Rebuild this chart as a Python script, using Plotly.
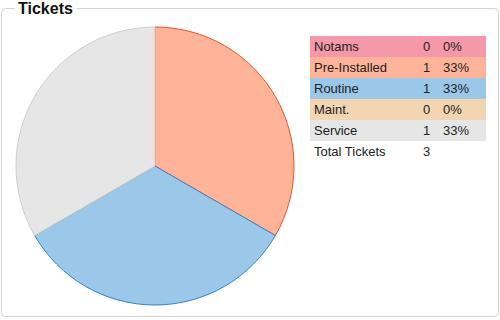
import plotly.graph_objects as go

# Ticket categories and counts
categories = ["Notams", "Pre-Installed", "Routine", "Maint.", "Service"]
counts = [0, 1, 1, 0, 1]
fill_colors = ["#f598a9", "#ffb499", "#9bc7e8", "#f2d5b1", "#e6e6e6"]
edge_colors = ["#e0607a", "#f4511e", "#2f86cf", "#c9a57c", "#cfcfcf"]
total_label = "Total Tickets"
title_text = "Tickets"

W, H = 500, 320
total = sum(counts)
pcts = [f"{round(100 * c / total)}%" if total else "0%" for c in counts]


def px(x):
    return x / W


def py(y):
    return 1 - y / H


fig = go.Figure()

fig.add_trace(go.Pie(
    labels=categories,
    values=counts,
    sort=False,
    direction="clockwise",
    rotation=0,
    textinfo="none",
    hoverinfo="label+value+percent",
    marker=dict(colors=fill_colors, line=dict(color=edge_colors, width=1)),
    domain=dict(x=[px(16), px(294)], y=[py(305), py(27)]),
    showlegend=False,
))

shapes = []
annotations = []

# Rounded frame around the panel
x0, y0, x1, y1, r = 1.5, 8.5, 498.5, 316.5, 4
path = (
    f"M {px(x0 + r)},{py(y0)} L {px(x1 - r)},{py(y0)} "
    f"Q {px(x1)},{py(y0)} {px(x1)},{py(y0 + r)} "
    f"L {px(x1)},{py(y1 - r)} Q {px(x1)},{py(y1)} {px(x1 - r)},{py(y1)} "
    f"L {px(x0 + r)},{py(y1)} Q {px(x0)},{py(y1)} {px(x0)},{py(y1 - r)} "
    f"L {px(x0)},{py(y0 + r)} Q {px(x0)},{py(y0)} {px(x0 + r)},{py(y0)} Z"
)
shapes.append(dict(type="path", xref="paper", yref="paper", path=path,
                   line=dict(color="#d4d4d4", width=1), layer="below"))

# Panel title sitting on the frame line
annotations.append(dict(
    x=px(14), y=py(8), xref="paper", yref="paper", xanchor="left", yanchor="middle",
    text=f"<b>{title_text}</b>", showarrow=False, bgcolor="#ffffff",
    borderpad=3, font=dict(family="Liberation Sans, Arial", size=16, color="#111111"),
))

# Summary table rows
tx0, tx1 = 310, 486
row_top, row_h = 36, 21
font = dict(family="Liberation Sans, Arial", size=13, color="#222222")


def cell(x, y, text):
    return dict(x=px(x), y=y, xref="paper", yref="paper", xanchor="left",
                yanchor="middle", text=text, showarrow=False, font=font, borderpad=0)


for i, (name, c, p, fc) in enumerate(zip(categories, counts, pcts, fill_colors)):
    yt = row_top + i * row_h
    shapes.append(dict(type="rect", xref="paper", yref="paper",
                       x0=px(tx0), x1=px(tx1), y0=py(yt + row_h), y1=py(yt),
                       fillcolor=fc, line=dict(width=0), layer="below"))
    ym = py(yt + row_h / 2)
    annotations.append(cell(313, ym, name))
    annotations.append(cell(422, ym, str(c)))
    annotations.append(cell(442, ym, p))

yt = row_top + len(categories) * row_h
ym = py(yt + row_h / 2)
annotations.append(cell(313, ym, total_label))
annotations.append(cell(422, ym, str(total)))

fig.update_layout(
    width=W, height=H,
    margin=dict(l=0, r=0, t=0, b=0),
    paper_bgcolor="#ffffff",
    plot_bgcolor="#ffffff",
    shapes=shapes,
    annotations=annotations,
)

fig.write_html("out.html", config={"displayModeBar": False})
